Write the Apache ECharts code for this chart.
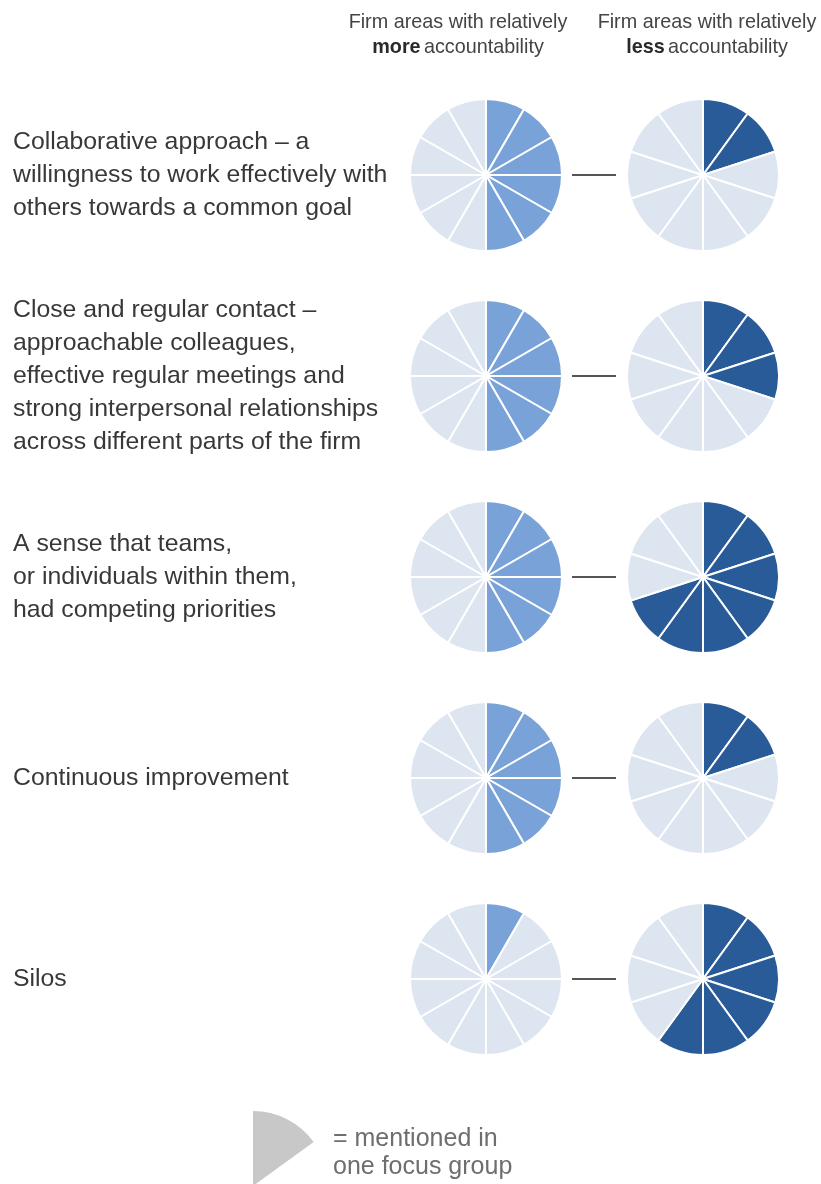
<!DOCTYPE html>
<html>
<head>
<meta charset="utf-8">
<script src="https://cdn.jsdelivr.net/npm/echarts@6/dist/echarts.min.js"></script>
<style>
  html, body { margin: 0; padding: 0; background: #fff; }
  #main { width: 821px; height: 1184px; }
</style>
</head>
<body>
<div id="main"></div>
<script>
// themes raised in the focus groups
const rowLabels = [
    'Collaborative approach \u2013 a\nwillingness to work effectively with\nothers towards a common goal',
    'Close and regular contact \u2013\napproachable colleagues,\neffective regular meetings and\nstrong interpersonal relationships\nacross different parts of the firm',
    'A sense that teams,\nor individuals within them,\nhad competing priorities',
    'Continuous improvement',
    'Silos'
];
// number of focus groups mentioning each theme
const moreCounts = [6, 6, 6, 6, 1];
const lessCounts = [2, 3, 7, 2, 6];
const moreTotal = 12;
const lessTotal = 10;

const headers = [
    '{n|Firm areas with relatively}\n{b|more} {n|accountability}',
    '{n|Firm areas with relatively}\n{b|less} {n|accountability}'
];

const FONT = '"Liberation Sans", Arial, sans-serif';
const LIGHT = '#dde5f0';
const MID = '#79a3d8';
const DARK = '#2a5b99';

let rowY = [175, 376, 577, 778, 979];
let leftX = 486, rightX = 703, R = 76;

function slices(count, total, on) {
    let data = [];
    for (let i = 0; i < total; i++) {
        data.push({value: 1, itemStyle: {color: i < count ? on : LIGHT}});
    }
    return data;
}

function pieSeries(cx, cy, data) {
    return {
        type: 'pie',
        center: [cx, cy],
        radius: [0, R],
        startAngle: 90,
        clockwise: true,
        silent: true,
        animation: false,
        label: {show: false},
        labelLine: {show: false},
        emphasis: {disabled: true},
        itemStyle: {borderColor: '#fff', borderWidth: 2},
        data: data
    };
}

let series = [];
let graphic = [];
for (let i = 0; i < rowLabels.length; i++) {
    series.push(pieSeries(leftX, rowY[i], slices(moreCounts[i], moreTotal, MID)));
    series.push(pieSeries(rightX, rowY[i], slices(lessCounts[i], lessTotal, DARK)));
    graphic.push({
        type: 'text', left: 13, top: rowY[i] - (rowLabels[i].split('\n').length * 33) / 2,
        style: {text: rowLabels[i], fill: '#383838', font: '24.8px ' + FONT, lineHeight: 33}
    });
    graphic.push({
        type: 'line', shape: {x1: 572, y1: rowY[i], x2: 616, y2: rowY[i]},
        style: {stroke: '#555', lineWidth: 2}
    });
}

// legend wedge
series.push({
    type: 'pie', center: [253, 1186], radius: [0, 75], startAngle: 90,
    silent: true, animation: false, label: {show: false}, emphasis: {disabled: true},
    data: [{value: 54, itemStyle: {color: '#c8c8c8'}}, {value: 306, itemStyle: {color: 'rgba(0,0,0,0)'}}]
});

let headerX = [458, 707];
for (let h = 0; h < 2; h++) {
    graphic.push({
        type: 'text', x: headerX[h], y: 10,
        style: {
            text: headers[h], align: 'center', fill: '#444', lineHeight: 25,
            rich: {
                n: {font: '19.8px ' + FONT, fill: '#444', lineHeight: 25},
                b: {font: 'bold 19.8px ' + FONT, fill: '#2a2a2a', lineHeight: 25}
            }
        }
    });
}
graphic.push({
    type: 'text', left: 333, top: 1125,
    style: {text: '= mentioned in\none focus group', fill: '#6e6e6e', font: '25px ' + FONT, lineHeight: 28}
});

let myChart = echarts.init(document.getElementById('main'));
let option = {
    animation: false,
    series: series,
    graphic: graphic
};
myChart.setOption(option);
</script>
</body>
</html>
